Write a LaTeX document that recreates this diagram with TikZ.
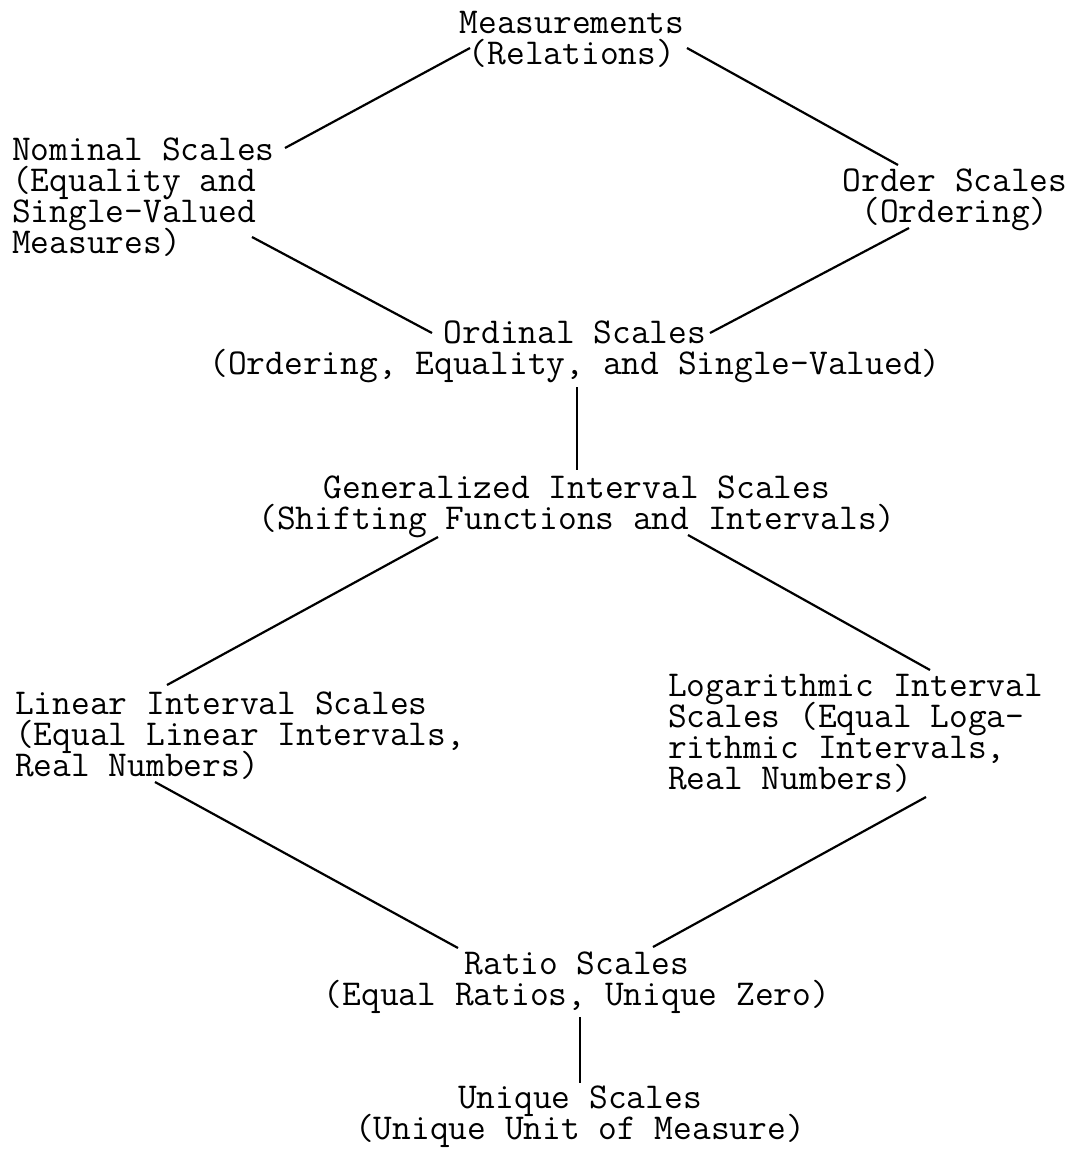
\documentclass[tikz,border=0pt]{standalone}
\newcommand\fixedlines{\lineskiplimit=-100pt\relax\lineskip=0pt\relax}
\begin{document}
\begin{tikzpicture}[
  x=1pt, y=-1pt,
  kind/.style={font={\ttfamily\fontsize{36.4}{31}\selectfont\fixedlines}, inner sep=0pt, align=center, anchor=base},
  kindleft/.style={kind, align=left, anchor=base west},
  link/.style={line width=2.2pt}
]
\useasboundingbox (0,0) rectangle (1074,1149);

\node[kind] (meas) at (572,64) {Measurements\\(Relations)};
\node[kindleft] (nom) at (12,253) {Nominal Scales\\(Equality and\\Single-Valued\\Measures)};
\node[kind] (order) at (955,222) {Order Scales\\(Ordering)};
\node[kind] (ordinal) at (575,374) {Ordinal Scales\\(Ordering, Equality, and Single-Valued)};
\node[kind] (gen) at (577,529) {Generalized Interval Scales\\(Shifting Functions and Intervals)};
\node[kindleft] (lin) at (15,776) {Linear Interval Scales\\(Equal Linear Intervals,\\Real Numbers)};
\node[kindleft] (logi) at (668,789) {Logarithmic Interval\\Scales (Equal Loga-\\rithmic Intervals,\\Real Numbers)};
\node[kind] (ratio) at (577,1005) {Ratio Scales\\(Equal Ratios, Unique Zero)};
\node[kind] (uniq) at (580,1139) {Unique Scales\\(Unique Unit of Measure)};

\draw[link] ([shift={(-102,-16)}]meas.base) -- ([shift={(273,-105)}]nom.base west);
\draw[link] ([shift={(115,-16)}]meas.base) -- ([shift={(-57,-57)}]order.base);
\draw[link] ([shift={(240,-16)}]nom.base west) -- ([shift={(-143,-41)}]ordinal.base);
\draw[link] ([shift={(-46,6)}]order.base) -- ([shift={(135,-41)}]ordinal.base);
\draw[link] ([shift={(2,13)}]ordinal.base) -- ([shift={(0,-59)}]gen.base);
\draw[link] ([shift={(-139,8)}]gen.base) -- ([shift={(152,-91)}]lin.base west);
\draw[link] ([shift={(111,6)}]gen.base) -- ([shift={(262,-119)}]logi.base west);
\draw[link] ([shift={(140,6)}]lin.base west) -- ([shift={(-119,-57)}]ratio.base);
\draw[link] ([shift={(258,8)}]logi.base west) -- ([shift={(76,-58)}]ratio.base);
\draw[link] ([shift={(3,12)}]ratio.base) -- ([shift={(0,-56)}]uniq.base);
\end{tikzpicture}
\end{document}
